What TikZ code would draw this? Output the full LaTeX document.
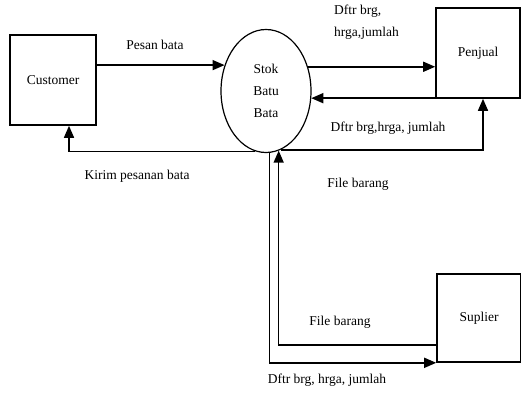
\documentclass[tikz,border=0pt]{standalone}
\usepackage{fontspec}
\setmainfont{Liberation Serif}
\usepackage{tikz}
\usetikzlibrary{arrows.meta,positioning,shapes.geometric}

\begin{document}
\begin{tikzpicture}[
  x=1pt,y=-1pt,
  every node/.style={font=\fontsize{13.5}{22}\selectfont},
  box/.style={draw,line width=1.6pt,minimum width=86pt,minimum height=90pt,align=center},
  proc/.style={draw,ellipse,line width=1.2pt,minimum width=90pt,minimum height=123pt,align=center,inner sep=0pt},
  arr/.style={-{Triangle[length=12pt,width=10pt]},line width=1.5pt},
  lbl/.style={inner sep=1pt,align=left}
]
\useasboundingbox (0,0) rectangle (521,394);
\node[box] (cust) at (53,80) {Customer};
\node[proc] (stok) at (266,91) {Stok\\Batu\\Bata};
\node[box,minimum width=84pt] (penj) at (478,53) {Penjual};
\node[box,minimum width=84pt,minimum height=88pt] (supl) at (479,318) {Suplier};
\draw[arr] (cust.east |- stok.148) -- (stok.148);
\draw[arr] (stok.30) -- (stok.30 -| penj.west);
\draw[arr] (stok.-9 -| penj.west) -- (stok.-9);
\draw[arr] (stok.-76) -| ([xshift=5]penj.south);
\draw[arr] (stok.-100) -| ([xshift=16]cust.south);
\draw[arr] (stok.-87) |- (supl.south west);
\draw[arr] ([yshift=18]supl.south west) -| (stok.-78);
\node[lbl] (pesan) at (155,45) {Pesan bata};
\node[lbl,anchor=west] (dftr1) at (333,22) {Dftr brg,\\hrga,jumlah};
\node[lbl] (dftr2) at (388,128) {Dftr brg,hrga, jumlah};
\node[lbl] (kirim) at (137,176) {Kirim pesanan bata};
\node[lbl] (file1) at (358,184) {File barang};
\node[lbl] (file2) at (340,322) {File barang};
\node[lbl] (dftr3) at (327,380) {Dftr brg, hrga, jumlah};
\end{tikzpicture}
\end{document}
